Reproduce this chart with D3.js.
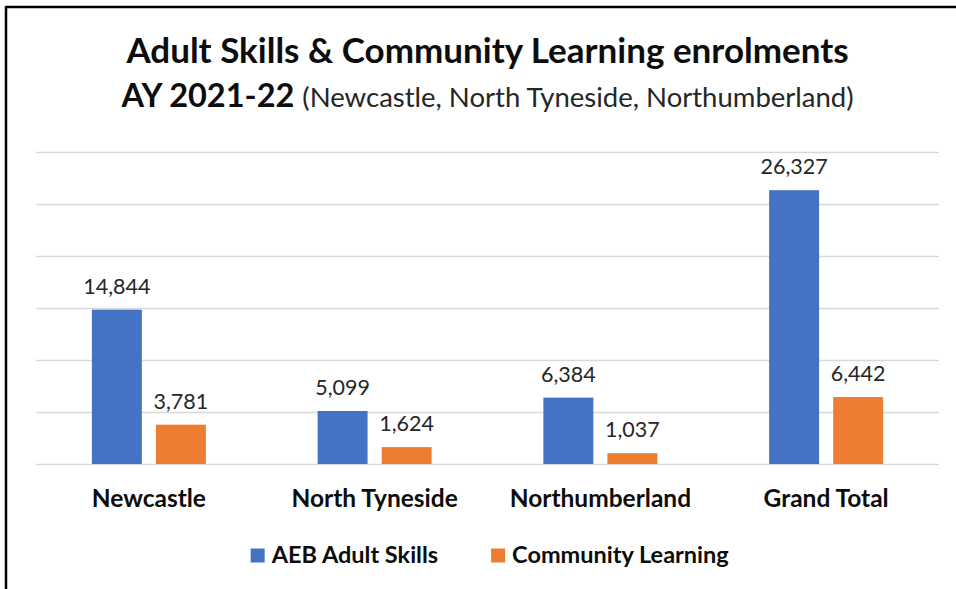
<!DOCTYPE html>
<html>
<head>
<meta charset="utf-8">
<script src="https://cdn.jsdelivr.net/npm/d3@7"></script>
<style>
  html, body { margin: 0; padding: 0; background: #fff; }
  svg { display: block; font-family: Lato, "Open Sans", sans-serif; }
</style>
</head>
<body>
<svg id="chart" width="956" height="589"></svg>
<script>
// Enrolment counts by area, academic year 2021-22
const categories = ["Newcastle", "North Tyneside", "Northumberland", "Grand Total"];
const seriesNames = ["AEB Adult Skills", "Community Learning"];
const aebValues = [14844, 5099, 6384, 26327];
const communityValues = [3781, 1624, 1037, 6442];
const gridTicks = [0, 5000, 10000, 15000, 20000, 25000, 30000];

const colors = { "AEB Adult Skills": "#4472C4", "Community Learning": "#ED7D31" };
const rows = categories.map((c, i) => ({
  category: c,
  values: [
    { key: seriesNames[0], value: aebValues[i] },
    { key: seriesNames[1], value: communityValues[i] }
  ]
}));

const svg = d3.select("#chart");
const W = 956, H = 589;
const plot = { left: 36, right: 939, top: 152, bottom: 464 };

// frame lines along the top and left edges
svg.append("line").attr("x1", 6).attr("x2", W).attr("y1", 7).attr("y2", 7)
  .attr("stroke", "#000").attr("stroke-width", 2.5);
svg.append("line").attr("x1", 6).attr("x2", 6).attr("y1", 6).attr("y2", H)
  .attr("stroke", "#000").attr("stroke-width", 2.5);

const x0 = d3.scaleBand().domain(categories).range([plot.left, plot.right]).padding(0);
const groupW = x0.bandwidth() * 0.505;
const x1 = d3.scaleBand().domain(seriesNames)
  .range([(x0.bandwidth() - groupW) / 2, (x0.bandwidth() + groupW) / 2])
  .paddingInner(0.22).paddingOuter(0);
const y = d3.scaleLinear().domain([0, 30000]).range([plot.bottom, plot.top]);

// horizontal gridlines
const yAxis = d3.axisLeft(y).tickValues(gridTicks)
  .tickSize(-(plot.right - plot.left)).tickFormat("");
const gy = svg.append("g").attr("transform", `translate(${plot.left},0)`).call(yAxis);
gy.select(".domain").remove();
gy.selectAll(".tick line").attr("stroke", "#d9d9d9").attr("stroke-width", 1.6);

// bars
const groups = svg.append("g").selectAll("g").data(rows).join("g")
  .attr("transform", d => `translate(${x0(d.category)},0)`);
groups.selectAll("rect").data(d => d.values).join("rect")
  .attr("x", d => x1(d.key))
  .attr("width", x1.bandwidth())
  .attr("y", d => y(d.value))
  .attr("height", d => y(0) - y(d.value))
  .attr("fill", d => colors[d.key]);

// value labels
const fmt = d3.format(",");
groups.selectAll("text.val").data(d => d.values).join("text")
  .attr("class", "val")
  .attr("x", d => x1(d.key) + x1.bandwidth() / 2)
  .attr("y", d => y(d.value) - 16)
  .attr("text-anchor", "middle")
  .attr("font-size", 21.5)
  .attr("fill", "#262626")
  .text(d => fmt(d.value));

// category axis labels
const xAxis = d3.axisBottom(x0).tickSize(0).tickPadding(0);
const gx = svg.append("g").attr("transform", `translate(0,${plot.bottom})`).call(xAxis);
gx.select(".domain").remove();
gx.selectAll(".tick text")
  .attr("dy", 0).attr("y", 43)
  .attr("font-family", "Lato, sans-serif")
  .attr("font-size", 24.5).attr("font-weight", "bold").attr("fill", "#0d0d0d");

// title
const cx = (plot.left + plot.right) / 2;
svg.append("text").attr("x", cx).attr("y", 63)
  .attr("text-anchor", "middle").attr("font-size", 35).attr("font-weight", "bold")
  .attr("fill", "#0d0d0d")
  .text("Adult Skills & Community Learning enrolments");
const sub = svg.append("text").attr("x", cx).attr("y", 107)
  .attr("text-anchor", "middle").attr("fill", "#0d0d0d");
sub.append("tspan").attr("font-size", 32.5).attr("font-weight", "bold").text("AY 2021-22 ");
sub.append("tspan").attr("font-size", 27.5).attr("fill", "#262626")
  .text("(Newcastle, North Tyneside,  Northumberland)");

// legend
const legend = svg.append("g");
const items = legend.selectAll("g").data(seriesNames).join("g");
items.append("rect").attr("width", 14).attr("height", 14).attr("y", -14.5)
  .attr("fill", d => colors[d]);
items.append("text").attr("x", 21).attr("y", 0)
  .attr("font-size", 23.5).attr("font-weight", "bold").attr("fill", "#0d0d0d")
  .text(d => d);
let offset = 0;
items.each(function () {
  const w = this.getBBox().width;
  d3.select(this).attr("transform", `translate(${offset},0)`);
  offset += w + 53;
});
const total = offset - 53;
legend.attr("transform", `translate(${490 - total / 2},563)`);
</script>
</body>
</html>
